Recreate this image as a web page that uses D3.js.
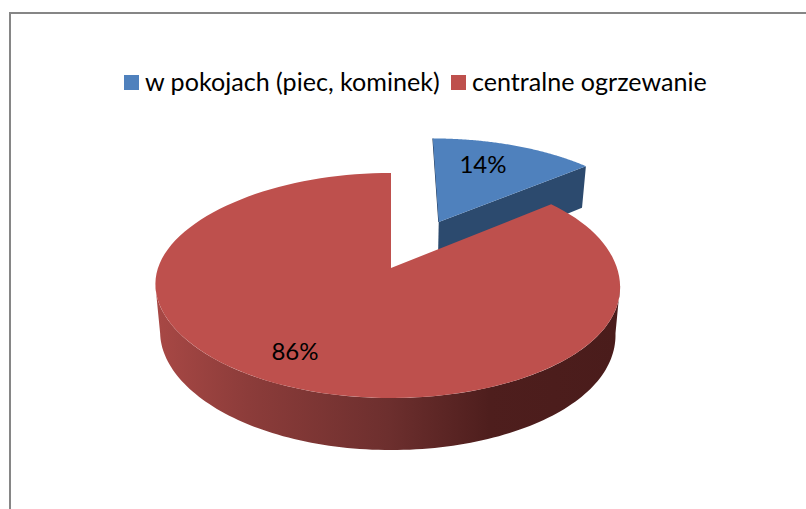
<!DOCTYPE html>
<html><head><meta charset="utf-8">
<script src="https://cdn.jsdelivr.net/npm/d3@7/dist/d3.min.js"></script>
<style>html,body{margin:0;padding:0;background:#fff}svg{display:block}text{font-family:Lato,"Noto Sans",sans-serif;fill:#000}</style>
</head><body><svg id="c" width="806" height="509"></svg>
<script>
const categories = ["w pokojach (piec, kominek)", "centralne ogrzewanie"];
const values = [14, 86];
const labels = ["14%", "86%"];
const topColors = ["#4f81bd", "#be504d"];

const svg = d3.select("#c");
const defs = svg.append("defs");
const grad = defs.append("linearGradient").attr("id","redWall").attr("gradientUnits","userSpaceOnUse")
  .attr("x1",156).attr("x2",619).attr("y1",0).attr("y2",0);
[[0,"#a84845"],[0.2,"#8c3c3a"],[0.5,"#6d2f2e"],[0.72,"#4e1e1d"],[1,"#4a1c1b"]].forEach(d=>grad.append("stop").attr("offset",d[0]).attr("stop-color",d[1]));

// chart frame
svg.append("path").attr("d","M10,509V13H806").attr("fill","none").attr("stroke","#868686").attr("stroke-width",2);

// perspective projection of the pie disc
const cx=391, cy=268, a=229.5, b=109.8, p=0.1556;
function project(X,Y,lower,warp){
  const w=1-p*Y;
  let x=a*X/w - (warp?3.5*Math.pow(X,6):0), y=b*Y/w;
  if(lower){ x*=0.98; y+=47+5*Y; }
  return [cx+x, cy+y];
}
const pieGen=d3.pie().sort(null).value(d=>d);
const arcs=pieGen(values);
const rim=(t0,t1,ox,oy,lower,warp)=>d3.range(0,121).map(i=>{
  const t=t0+(t1-t0)*i/120;
  return project(ox+Math.sin(t),oy-Math.cos(t),lower,warp);
});
const line=d3.line();
const explode=0.507;
const mid=(arcs[0].startAngle+arcs[0].endAngle)/2;
const ox=explode*Math.sin(mid), oy=-explode*Math.cos(mid);

// blue slice
const blue=arcs[0];
const cornerX=ox+Math.sin(blue.endAngle), cornerY=oy-Math.cos(blue.endAngle);
const gb=svg.append("g").attr("transform","translate(1.5,1)");
gb.append("path").attr("fill","#2c4a6e").attr("d",line([
  project(ox,oy,false),project(cornerX,cornerY,false),project(cornerX,cornerY,true),project(ox,oy,true)
])+"Z");
gb.append("path").attr("fill","none").attr("stroke","#1f3552").attr("stroke-width",1).attr("d",line([project(ox,oy-1,false),project(ox,oy,false)]));
gb.append("path").attr("fill",topColors[0]).attr("d",line([project(ox,oy,false),...rim(blue.startAngle,blue.endAngle,ox,oy,false)])+"Z");

// red slice
const red=arcs[1];
const t0=Math.acos(-p), t1=2*Math.PI-t0;
const wallTop=rim(t0,t1,0,0,false,true);
const wallBot=rim(t0,t1,0,0,true,true).reverse();
svg.append("path").attr("fill","url(#redWall)").attr("d",line([...wallTop,...wallBot])+"Z");
svg.append("path").attr("fill",topColors[1]).attr("d",line([project(0,0,false,true),...rim(red.startAngle,red.endAngle,0,0,false,true)])+"Z");

// data labels
const labelPos=[[483,167],[295,354]];
labels.forEach((t,i)=>svg.append("text").attr("x",labelPos[i][0]).attr("y",labelPos[i][1]).attr("text-anchor","middle").attr("dominant-baseline","middle").attr("font-size",24).text(t));

// legend
const legendX=[124,451];
categories.forEach((c,i)=>{
  svg.append("rect").attr("x",legendX[i]).attr("y",75).attr("width",15).attr("height",15).attr("fill",topColors[i]);
  svg.append("text").attr("x",legendX[i]+21).attr("y",91).attr("font-size",25.1).text(c);
});
</script></body></html>
